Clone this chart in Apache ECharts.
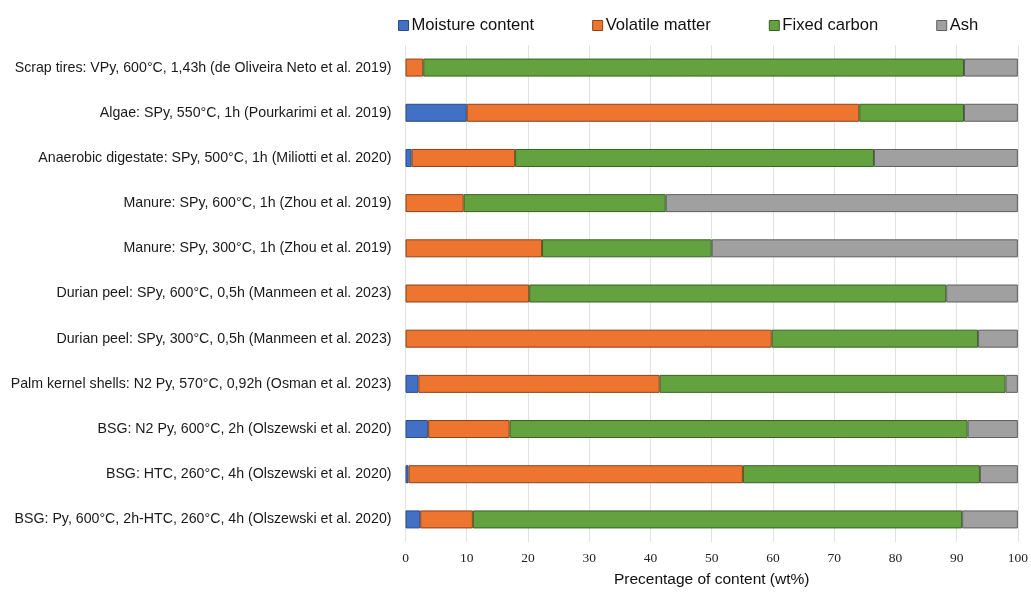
<!DOCTYPE html>
<html>
<head>
<meta charset="utf-8">
<script src="https://cdn.jsdelivr.net/npm/echarts@6/dist/echarts.min.js"></script>
<style>
  html, body { margin: 0; padding: 0; background: #fff; }
  #chart { width: 1031px; height: 593px; }
</style>
</head>
<body>
<div id="chart"></div>
<script>
// Proximate analysis of chars (wt%), one row per feedstock / process
const categories = [
  'Scrap tires: VPy, 600°C, 1,43h (de Oliveira Neto et al. 2019)',
  'Algae: SPy, 550°C, 1h (Pourkarimi et al. 2019)',
  'Anaerobic digestate: SPy, 500°C, 1h (Miliotti et al. 2020)',
  'Manure: SPy, 600°C, 1h (Zhou et al. 2019)',
  'Manure: SPy, 300°C, 1h (Zhou et al. 2019)',
  'Durian peel: SPy, 600°C, 0,5h (Manmeen et al. 2023)',
  'Durian peel: SPy, 300°C, 0,5h (Manmeen et al. 2023)',
  'Palm kernel shells: N2 Py, 570°C, 0,92h (Osman et al. 2023)',
  'BSG: N2 Py, 600°C, 2h (Olszewski et al. 2020)',
  'BSG: HTC, 260°C, 4h (Olszewski et al. 2020)',
  'BSG: Py, 600°C, 2h-HTC, 260°C, 4h (Olszewski et al. 2020)'
];

const moisture = [null, 10.0, 1.0, null, null, null, null, 2.1, 3.7, 0.5, 2.4];
const volatile = [2.9, 64.1, 16.9, 9.5, 22.3, 20.2, 59.8, 39.4, 13.3, 54.6, 8.6];
const fixedCarbon = [88.3, 17.1, 58.6, 33.0, 27.7, 68.1, 33.7, 56.5, 74.8, 38.7, 79.9];
const ash = [8.8, 8.8, 23.5, 57.5, 50.0, 11.7, 6.5, 2.0, 8.2, 6.2, 9.1];

const xTicks = { min: 0, max: 100, interval: 10 };

const seriesDefs = [
  { name: 'Moisture content', data: moisture, color: '#4270C4', border: '#2c4a85' },
  { name: 'Volatile matter', data: volatile, color: '#ED752F', border: '#8a4319' },
  { name: 'Fixed carbon', data: fixedCarbon, color: '#63A23F', border: '#3a6125' },
  { name: 'Ash', data: ash, color: '#A0A0A0', border: '#5e5e5e' }
];

const chart = echarts.init(document.getElementById('chart'), null, { renderer: 'canvas' });

chart.setOption({
  animation: false,
  backgroundColor: '#ffffff',
  textStyle: { fontFamily: 'Liberation Sans, Arial, sans-serif' },
  legend: {
    top: 12,
    left: 393,
    itemWidth: 10,
    itemHeight: 10,
    itemGap: 58,
    selectedMode: false,
    textStyle: { fontSize: 16.6, color: '#111', padding: [0, 0, 0, -2] },
    data: seriesDefs.map(s => ({
      name: s.name,
      icon: 'rect',
      itemStyle: { color: s.color, borderColor: s.border, borderWidth: 1 }
    }))
  },
  grid: { left: 405.5, right: 12, top: 45, bottom: 50, containLabel: false },
  xAxis: {
    type: 'value',
    min: xTicks.min,
    max: xTicks.max,
    interval: xTicks.interval,
    name: 'Precentage of content (wt%)',
    nameLocation: 'middle',
    nameGap: 30,
    nameTextStyle: { fontSize: 15.5, color: '#111', fontFamily: 'Liberation Sans, Arial, sans-serif' },
    axisLine: { show: false },
    axisTick: { show: false },
    axisLabel: { fontSize: 13.5, color: '#222', fontFamily: 'Liberation Serif, Times New Roman, serif', margin: 9 },
    splitLine: { show: true, lineStyle: { color: '#e2e2e2', width: 1 } }
  },
  yAxis: {
    type: 'category',
    inverse: true,
    data: categories,
    axisLine: { show: false },
    axisTick: { show: false },
    axisLabel: { fontSize: 14.2, color: '#1a1a1a', margin: 14 }
  },
  series: seriesDefs.map(s => ({
    name: s.name,
    type: 'bar',
    stack: 'total',
    barWidth: 18,
    data: s.data,
    itemStyle: { color: s.color, borderColor: s.border, borderWidth: 1 },
    emphasis: { disabled: true }
  }))
});
</script>
</body>
</html>
